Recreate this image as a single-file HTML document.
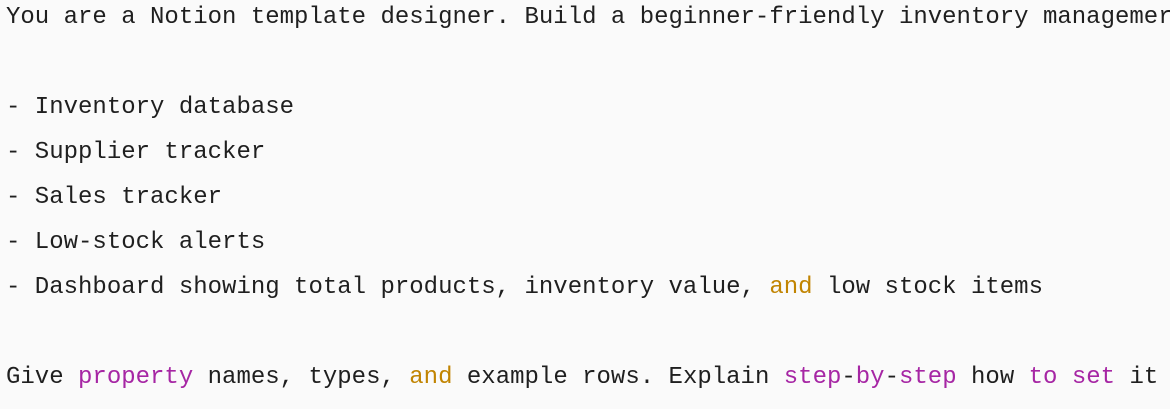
<!DOCTYPE html>
<html><head><style>
html,body{margin:0;padding:0;background:#fafafa;width:1170px;height:409px;overflow:hidden}
.l{position:absolute;left:6px;height:45px;line-height:45px;font-family:"Liberation Mono",monospace;font-size:24px;color:#1f1f1f;white-space:pre;letter-spacing:0}
.p{color:#a626a4}.k{color:#c18401}
</style></head><body>
<div class="l" style="top:-5px">You are a Notion template designer. Build a beginner-friendly inventory managemer</div>
<div class="l" style="top:85px">- Inventory database</div>
<div class="l" style="top:130px">- Supplier tracker</div>
<div class="l" style="top:175px">- Sales tracker</div>
<div class="l" style="top:220px">- Low-stock alerts</div>
<div class="l" style="top:265px">- Dashboard showing total products, inventory value, <span class="k">and</span> low stock items</div>
<div class="l" style="top:355px">Give <span class="p">property</span> names, types, <span class="k">and</span> example rows. Explain <span class="p">step</span>-<span class="p">by</span>-<span class="p">step</span> how <span class="p">to</span> <span class="p">set</span> it</div>
</body></html>
